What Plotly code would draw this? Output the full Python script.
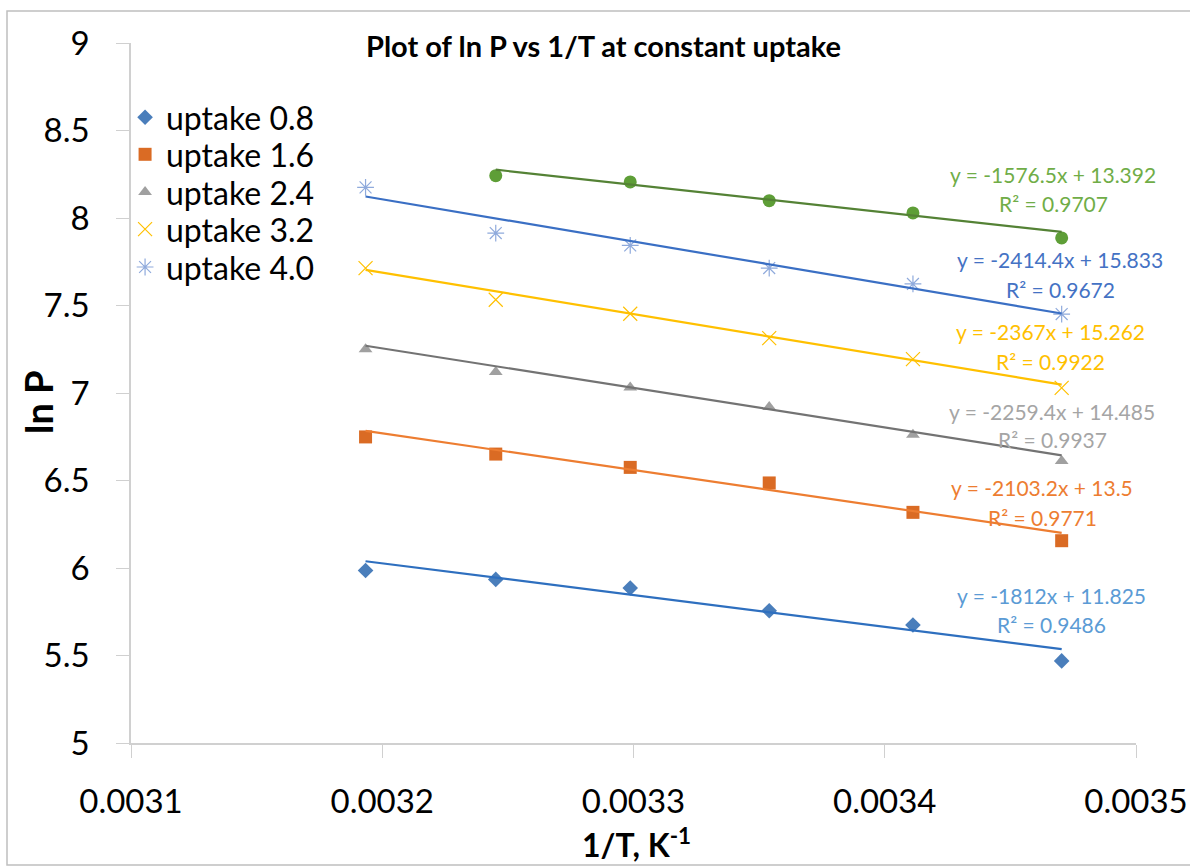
import numpy as np
import plotly.graph_objects as go

# Temperatures (K) and reciprocal temperature axis
temps_K = [313.15, 308.15, 303.15, 298.15, 293.15, 288.15]
inv_T = [1.0 / t for t in temps_K]

# ln P values at constant uptake
ln_p_08 = [5.986, 5.935, 5.886, 5.756, 5.674, 5.469]
ln_p_16 = [6.749, 6.651, 6.575, 6.486, 6.318, 6.156]
ln_p_24 = [7.250, 7.120, 7.032, 6.920, 6.762, 6.612]
ln_p_32 = [7.714, 7.533, 7.453, 7.314, 7.194, 7.029]
ln_p_40 = [8.175, 7.914, 7.843, 7.714, 7.623, 7.451]
ln_p_48 = [8.242, 8.206, 8.099, 8.029, 7.886]   # measured from 308.15 K down

# Linear trendline coefficients and fit quality
slopes = [-1812.0, -2103.2, -2259.4, -2367.0, -2414.4, -1576.5]
intercepts = [11.825, 13.5, 14.485, 15.262, 15.833, 13.392]
r_squared = [0.9486, 0.9771, 0.9937, 0.9922, 0.9672, 0.9707]

series_names = ["uptake 0.8", "uptake 1.6", "uptake 2.4", "uptake 3.2", "uptake 4.0", "uptake 4.8"]
series_y = [ln_p_08, ln_p_16, ln_p_24, ln_p_32, ln_p_40, ln_p_48]
series_x = [inv_T, inv_T, inv_T, inv_T, inv_T, inv_T[1:]]

marker_colors = ["#4A7EBB", "#DA6B24", "#A0A0A0", "#FFC000", "#8FAADC", "#5E9E37"]
line_colors = ["#2E6FBF", "#ED7D31", "#737373", "#FFC000", "#3A6FC4", "#548235"]
label_colors = ["#5B9BD5", "#ED7D31", "#A5A5A5", "#FFC000", "#4472C4", "#70AD47"]
symbols = ["diamond", "square", "triangle-up", "x-thin-open", "asterisk-open", "circle"]
sizes = [12, 13, 12, 14, 14, 13]

# Label anchor positions (data coords) for equation / R² text
label_x = [0.0034662, 0.0034626, 0.0034666, 0.0034658, 0.0034698, 0.0034670]
label_eq_y = [5.842, 6.459, 6.893, 7.350, 7.762, 8.248]
label_r2_y = [5.676, 6.287, 6.733, 7.179, 7.591, 8.081]

# Legend rows (fractions of the plot area)
legend_marker_x = 0.014
legend_text_x = 0.033
legend_rows_y = [0.894, 0.841, 0.787, 0.734, 0.680]

FONT = "Lato, 'Open Sans', sans-serif"

fig = go.Figure()

def marker_style(i):
    open_sym = symbols[i].endswith("open")
    return dict(symbol=symbols[i], size=sizes[i], color=marker_colors[i],
                line=dict(width=1.2 if open_sym else 0, color=marker_colors[i]))

for i, name in enumerate(series_names):
    fig.add_trace(go.Scatter(
        x=series_x[i], y=series_y[i], mode="markers", name=name,
        showlegend=False, marker=marker_style(i),
    ))

# Trendlines from the fitted coefficients
for i in range(6):
    xs = np.array([series_x[i][0], series_x[i][-1]])
    fig.add_trace(go.Scatter(
        x=xs, y=slopes[i] * xs + intercepts[i], mode="lines",
        showlegend=False, hoverinfo="skip",
        line=dict(color=line_colors[i], width=2.2),
    ))

# Legend key markers on an overlay axis spanning the plot area
for i in range(5):
    fig.add_trace(go.Scatter(
        x=[legend_marker_x], y=[legend_rows_y[i]], mode="markers",
        xaxis="x2", yaxis="y2", showlegend=False, hoverinfo="skip",
        marker=marker_style(i),
    ))
    fig.add_annotation(xref="x2", yref="y2", x=legend_text_x, y=legend_rows_y[i],
                       text=series_names[i], showarrow=False, xanchor="left",
                       yanchor="middle", font=dict(family=FONT, size=32, color="#000000"))

def fmt_coef(v):
    return f"{v:.3f}".rstrip("0").rstrip(".")

for i in range(6):
    eq = f"y = {fmt_coef(slopes[i])}x + {fmt_coef(intercepts[i])}"
    fig.add_annotation(x=label_x[i], y=label_eq_y[i], text=eq, showarrow=False,
                       xanchor="center", yanchor="middle",
                       font=dict(family=FONT, size=21, color=label_colors[i]))
    fig.add_annotation(x=label_x[i], y=label_r2_y[i], text=f"R² = {r_squared[i]:.4f}",
                       showarrow=False, xanchor="center", yanchor="middle",
                       font=dict(family=FONT, size=21, color=label_colors[i]))

fig.add_annotation(xref="paper", yref="paper", x=0.47, y=0.997, yanchor="middle",
                   text="<b>Plot of ln P vs 1/T at constant uptake</b>", showarrow=False,
                   font=dict(family=FONT, size=29, color="#000000"))

# Axis titles
fig.add_annotation(xref="paper", yref="paper", x=(636 - 131) / 1005, y=(743 - 843) / 700,
                   text="<b>1/T, K<sup>-1</sup></b>", showarrow=False,
                   xanchor="center", yanchor="middle",
                   font=dict(family=FONT, size=32, color="#000000"))
fig.add_annotation(xref="paper", yref="paper", x=(38 - 131) / 1005, y=(743 - 402) / 700,
                   text="<b>ln P</b>", showarrow=False, textangle=-90,
                   xanchor="center", yanchor="middle",
                   font=dict(family=FONT, size=38, color="#000000"))

# Chart frame
fig.add_shape(type="rect", xref="paper", yref="paper",
              x0=-124 / 1005, x1=1176 / 1005, y0=-122 / 700, y1=732 / 700,
              line=dict(color="#BFBFBF", width=1.5), fillcolor="rgba(0,0,0,0)")

fig.update_layout(
    width=1190, height=867,
    margin=dict(l=131, r=54, t=43, b=124, autoexpand=False),
    paper_bgcolor="white", plot_bgcolor="white",
    font=dict(family=FONT, color="#000000"),
    showlegend=False,
    xaxis=dict(range=[0.0031, 0.0035], dtick=0.0001, tick0=0.0031, tickformat=".4f",
               showgrid=False, zeroline=False, showline=True, linecolor="#D0D0D0",
               linewidth=1.5, ticks="outside", ticklen=13, tickcolor="#D0D0D0",
               ticklabelstandoff=16, automargin=False,
               tickfont=dict(family=FONT, size=33)),
    yaxis=dict(range=[5, 9], dtick=0.5, showgrid=False, zeroline=False, showline=True,
               linecolor="#D0D0D0", linewidth=1.5, ticks="outside", ticklen=13,
               tickcolor="#D0D0D0", ticklabelstandoff=20, automargin=False,
               tickfont=dict(family=FONT, size=33)),
    xaxis2=dict(range=[0, 1], overlaying="x", visible=False, fixedrange=True),
    yaxis2=dict(range=[0, 1], overlaying="y", visible=False, fixedrange=True),
)

fig.write_html("out.html")
